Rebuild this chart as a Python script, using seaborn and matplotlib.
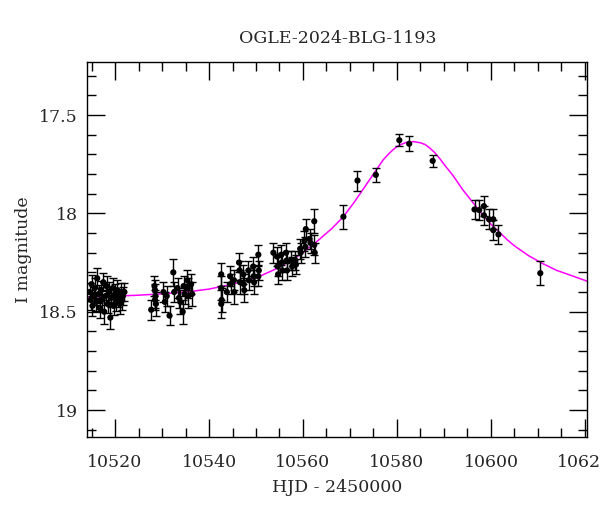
import matplotlib
matplotlib.use("Agg")
import matplotlib.pyplot as plt
import seaborn as sns
import pandas as pd
from matplotlib.ticker import MultipleLocator

# ---- observations (HJD - 2450000, I mag, error) ----
hjd = [
    10514.6, 10514.8, 10515.0, 10515.2, 10515.5, 10515.7, 10516.0, 10516.2, 10516.5, 10516.7,
    10517.0, 10517.2, 10517.5, 10517.7, 10518.0, 10518.2, 10518.5, 10518.7, 10519.0, 10519.2,
    10519.5, 10519.7, 10520.0, 10520.2, 10520.5, 10520.7, 10521.0, 10521.2, 10521.5, 10521.7,
    10522.0,
    10527.7, 10528.4, 10528.5, 10528.6, 10528.5, 10528.7, 10530.3, 10530.6, 10531.6, 10532.4,
    10532.6, 10533.3, 10533.6, 10534.4, 10534.6, 10534.8, 10535.4, 10535.5, 10535.6, 10536.2,
    10536.4, 10531.0, 10533.9,
    10542.6, 10542.6, 10542.7, 10542.6, 10543.8, 10544.5, 10544.6, 10545.3, 10545.4, 10546.4,
    10546.5, 10546.6, 10547.3, 10547.4, 10547.5, 10548.4, 10548.5, 10549.4, 10549.5, 10549.6,
    10550.5, 10550.6, 10550.5,
    10553.7, 10554.5, 10554.6, 10554.7, 10555.4, 10555.5, 10555.6, 10556.4, 10556.5, 10556.6,
    10557.5, 10557.7, 10558.4, 10558.5, 10559.4, 10559.5, 10560.3, 10560.6, 10560.5, 10561.4,
    10561.6, 10562.4, 10562.4, 10562.5,
    10568.6, 10571.6, 10575.5, 10580.5, 10582.6, 10587.6,
    10596.5, 10597.5, 10598.5, 10598.5, 10599.6, 10600.5, 10600.5, 10601.6,
    10610.5,
]
mag = [
    18.40, 18.44, 18.36, 18.47, 18.42, 18.38, 18.45, 18.33, 18.41, 18.48,
    18.39, 18.44, 18.35, 18.50, 18.42, 18.37, 18.46, 18.40, 18.53, 18.43,
    18.38, 18.47, 18.41, 18.45, 18.39, 18.43, 18.46, 18.40, 18.44, 18.42,
    18.40,
    18.49, 18.37, 18.39, 18.42, 18.44, 18.46, 18.40, 18.45, 18.52, 18.30,
    18.40, 18.38, 18.43, 18.50, 18.37, 18.41, 18.34, 18.38, 18.42, 18.36,
    18.41, 18.42, 18.45,
    18.31, 18.38, 18.44, 18.46, 18.40, 18.32, 18.36, 18.34, 18.40, 18.25,
    18.29, 18.35, 18.31, 18.36, 18.39, 18.29, 18.34, 18.27, 18.32, 18.35,
    18.21, 18.29, 18.32,
    18.20, 18.22, 18.27, 18.31, 18.21, 18.25, 18.29, 18.20, 18.24, 18.29,
    18.24, 18.27, 18.24, 18.26, 18.18, 18.20, 18.14, 18.08, 18.17, 18.13,
    18.15, 18.04, 18.16, 18.20,
    18.017, 17.833, 17.804, 17.628, 17.646, 17.733,
    17.98, 17.983, 17.963, 18.01, 18.03, 18.03, 18.085, 18.107,
    18.304,
]
err = [
    0.045, 0.05, 0.045, 0.05, 0.045, 0.05, 0.045, 0.05, 0.045, 0.05,
    0.045, 0.05, 0.045, 0.06, 0.045, 0.05, 0.045, 0.05, 0.06, 0.045,
    0.05, 0.045, 0.05, 0.045, 0.05, 0.045, 0.05, 0.045, 0.05, 0.045,
    0.045,
    0.05, 0.05, 0.05, 0.06, 0.05, 0.06, 0.05, 0.05, 0.05, 0.07,
    0.05, 0.05, 0.05, 0.06, 0.05, 0.05, 0.05, 0.05, 0.06, 0.05,
    0.06, 0.05, 0.06,
    0.06, 0.06, 0.06, 0.07, 0.05, 0.05, 0.05, 0.05, 0.06, 0.05,
    0.05, 0.06, 0.05, 0.05, 0.06, 0.05, 0.05, 0.05, 0.05, 0.06,
    0.05, 0.05, 0.05,
    0.05, 0.05, 0.05, 0.05, 0.05, 0.05, 0.05, 0.05, 0.05, 0.05,
    0.05, 0.05, 0.05, 0.05, 0.05, 0.05, 0.05, 0.05, 0.05, 0.05,
    0.05, 0.06, 0.05, 0.05,
    0.061, 0.051, 0.036, 0.03, 0.037, 0.03,
    0.05, 0.05, 0.05, 0.05, 0.05, 0.05, 0.05, 0.05,
    0.06,
]

# ---- model curve ----
model_hjd = [
    10514.1, 10520.0, 10525.0, 10530.0, 10535.0, 10540.0, 10545.0, 10550.0, 10554.0, 10557.6,
    10560.0, 10563.3, 10566.0, 10568.6, 10571.0, 10573.0, 10575.0, 10576.0, 10577.0, 10578.0,
    10579.0, 10580.0, 10581.0, 10582.0, 10583.5, 10585.0, 10586.0, 10587.0, 10588.0, 10589.0,
    10590.0, 10591.0, 10592.0, 10593.0, 10594.0, 10595.0, 10596.0, 10597.0, 10598.0, 10599.0,
    10600.0, 10601.0, 10602.0, 10603.5, 10605.0, 10608.0, 10611.0, 10614.0, 10617.0, 10620.5,
]
model_mag = [
    18.425, 18.421, 18.416, 18.409, 18.400, 18.385, 18.360, 18.328, 18.285, 18.238,
    18.200, 18.136, 18.080, 18.017, 17.940, 17.870, 17.800, 17.765, 17.730, 17.703,
    17.680, 17.660, 17.648, 17.639, 17.635, 17.641, 17.650, 17.668, 17.690, 17.718,
    17.750, 17.780, 17.810, 17.845, 17.880, 17.910, 17.940, 17.970, 18.000, 18.028,
    18.055, 18.078, 18.100, 18.135, 18.165, 18.215, 18.255, 18.290, 18.315, 18.345,
]

title = "OGLE-2024-BLG-1193"
xlabel = "HJD - 2450000"
ylabel = "I magnitude"

sns.set_theme(style="ticks")
plt.rcParams["font.family"] = ["DejaVu Serif"]
plt.rcParams["mathtext.fontset"] = "dejavuserif"

obs = pd.DataFrame({"hjd": hjd, "mag": mag, "err": err})
model = pd.DataFrame({"hjd": model_hjd, "mag": model_mag})

fig = plt.figure(figsize=(6.0, 5.12), dpi=100)
ax = fig.add_axes([0.1455, 0.1465, 0.8333, 0.7325])

sns.lineplot(data=model, x="hjd", y="mag", ax=ax, color="#ff00ff", lw=1.1,
             sort=False, estimator=None, zorder=1)
ax.errorbar(obs["hjd"], obs["mag"], yerr=obs["err"], fmt="none", ecolor="black",
            elinewidth=1.0, capsize=2.8, capthick=1.0, zorder=2)
sns.scatterplot(data=obs, x="hjd", y="mag", ax=ax, color="black", s=20,
                edgecolor="none", zorder=3)

ax.set_xlim(10514.1, 10620.5)
ax.set_ylim(19.137, 17.23)
ax.xaxis.set_major_locator(MultipleLocator(20))
ax.xaxis.set_minor_locator(MultipleLocator(5))
ax.yaxis.set_major_locator(MultipleLocator(0.5))
ax.yaxis.set_minor_locator(MultipleLocator(0.1))
ax.yaxis.set_major_formatter(matplotlib.ticker.FuncFormatter(lambda v, p: f"{v:g}"))

ax.tick_params(which="both", direction="in", top=True, right=True, color="black",
               width=1.0)
ax.tick_params(which="major", length=13)
ax.tick_params(which="minor", length=6.5)
ax.tick_params(axis="x", which="major", pad=12, labelsize=12.5)
ax.tick_params(axis="y", which="major", pad=7, labelsize=12.5)
for s in ax.spines.values():
    s.set_color("black")
    s.set_linewidth(1.0)

ax.set_xlabel(xlabel, fontsize=12.5, labelpad=6)
ax.set_ylabel(ylabel, fontsize=12.5, labelpad=5)
ax.set_title(title, fontsize=12.5, pad=14)

fig.savefig("out.png", dpi=100)
